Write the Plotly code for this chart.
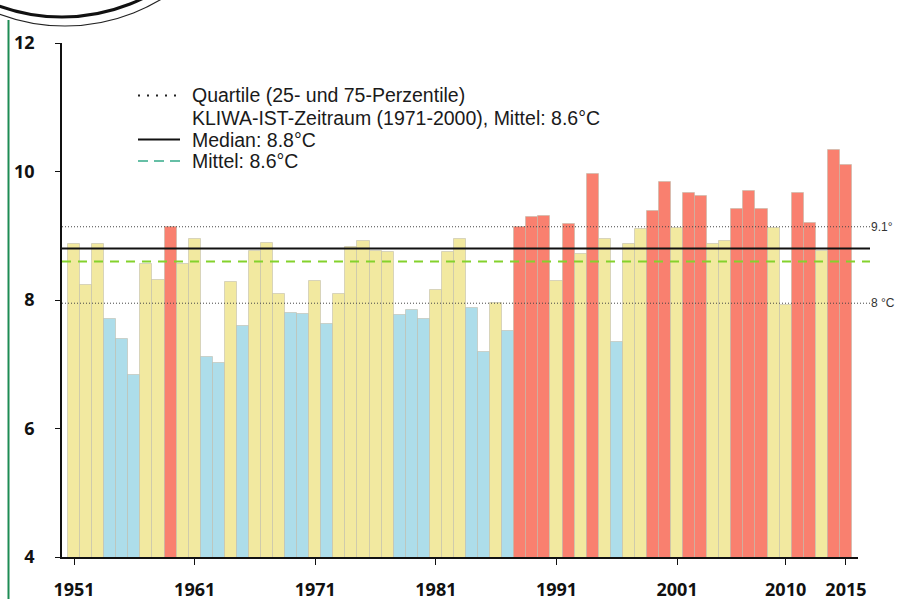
import plotly.graph_objects as go

# ---------------- data ----------------
years = list(range(1951, 2016))
temps = [8.87, 8.24, 8.87, 7.70, 7.39, 6.83, 8.56, 8.31, 9.14, 8.56,
         8.95, 7.12, 7.02, 8.28, 7.60, 8.76, 8.89, 8.09, 7.79, 7.78,
         8.30, 7.63, 8.10, 8.83, 8.92, 8.77, 8.75, 7.77, 7.84, 7.70,
         8.16, 8.75, 8.95, 7.87, 7.19, 7.96, 7.51, 9.13, 9.29, 9.30,
         8.30, 9.19, 8.72, 9.96, 8.95, 7.35, 8.87, 9.10, 9.39, 9.84,
         9.12, 9.66, 9.62, 8.87, 8.92, 9.41, 9.70, 9.41, 9.12, 7.92,
         9.66, 9.20, 8.77, 10.33, 10.10]
# class of each year: Y = between quartiles, B = below 25th, R = above 75th
classes = ["Y", "Y", "Y", "B", "B", "B", "Y", "Y", "R", "Y",
           "Y", "B", "B", "Y", "B", "Y", "Y", "Y", "B", "B",
           "Y", "B", "Y", "Y", "Y", "Y", "Y", "B", "B", "B",
           "Y", "Y", "Y", "B", "B", "Y", "B", "R", "R", "R",
           "Y", "R", "Y", "R", "Y", "B", "Y", "Y", "R", "R",
           "Y", "R", "R", "Y", "Y", "R", "R", "R", "Y", "Y",
           "R", "R", "Y", "R", "R"]
class_colors = {"Y": "#F2E9A0", "B": "#ADDDEA", "R": "#F9806F"}

q75 = 9.14
q25 = 7.95
median = 8.8
mean = 8.6
quart_labels = ["9.1°", "8 °C"]

x_ticks = [1951, 1961, 1971, 1981, 1991, 2001, 2010, 2015]
y_ticks = [4, 6, 8, 10, 12]

legend_lines = [
    "Quartile (25- und 75-Perzentile)",
    "KLIWA-IST-Zeitraum (1971-2000), Mittel: 8.6°C",
    "Median: 8.8°C",
    "Mittel: 8.6°C",
]

# ---------------- geometry (pixels in the 898x599 window) ----------------
W, H = 898, 599
WL, WR, WT, WB = 62, 858, 43, 557          # plot area
ML, MT = WL, WT
PW, PH = WR - WL, WB - WT
MR, MB = W - ML - PW, H - MT - PH


def px_x(p):
    return (p - WL) / PW


def px_y(p):
    return (WB - p) / PH


fig = go.Figure()

fig.add_trace(go.Bar(
    x=years, y=temps,
    marker=dict(color=[class_colors[c] for c in classes],
                line=dict(color="rgba(190,186,170,0.55)", width=1)),
    showlegend=False, hoverinfo="x+y",
))

# reference lines (extend slightly beyond the x axis end)
x_end = px_x(870)
for q in (q75, q25):
    fig.add_shape(type="line", xref="paper", yref="y", x0=0, x1=x_end, y0=q, y1=q,
                  line=dict(color="#444444", width=1, dash="1px,2px"), layer="above")
fig.add_shape(type="line", xref="paper", yref="y", x0=0, x1=x_end, y0=median, y1=median,
              line=dict(color="#111111", width=2), layer="above")
fig.add_shape(type="line", xref="paper", yref="y", x0=0, x1=x_end, y0=mean, y1=mean,
              line=dict(color="#84D22C", width=2, dash="9px,7px"), layer="above")

for q, lab in zip((q75, q25), quart_labels):
    fig.add_annotation(xref="paper", yref="y", x=px_x(869), y=q, text=lab, showarrow=False,
                       xanchor="left", yanchor="middle",
                       font=dict(family="Liberation Sans, Arial", size=12, color="#333333"))

# legend (drawn manually to match the tight line spacing)
leg_y = [95.5, 117.5, 139.5, 161]
leg_font = dict(family="Liberation Sans, Arial", size=19.5, color="#1a1a1a")
for txt, yy in zip(legend_lines, leg_y):
    fig.add_annotation(xref="paper", yref="paper", x=px_x(190), y=px_y(yy), text=txt,
                       showarrow=False, xanchor="left", yanchor="middle", font=leg_font)
leg_styles = [
    (leg_y[0], dict(color="#222222", width=2, dash="2px,7px")),
    (leg_y[2], dict(color="#111111", width=2)),
    (leg_y[3], dict(color="#66BFA6", width=2, dash="10px,6px")),
]
for yy, st in leg_styles:
    fig.add_shape(type="line", xref="paper", yref="paper",
                  x0=px_x(138), x1=px_x(180), y0=px_y(yy), y1=px_y(yy), line=st)

# decorations: green page line and cut-off logo circles
fig.add_shape(type="line", xref="paper", yref="paper",
              x0=px_x(8.5), x1=px_x(8.5), y0=px_y(20), y1=px_y(605),
              line=dict(color="#1E8C55", width=2))
fig.add_shape(type="circle", xref="paper", yref="paper",
              x0=px_x(-121), x1=px_x(251), y0=px_y(26), y1=px_y(-346),
              line=dict(color="#222222", width=1.2))
fig.add_shape(type="circle", xref="paper", yref="paper",
              x0=px_x(-123), x1=px_x(247), y0=px_y(17), y1=px_y(-353),
              line=dict(color="#111111", width=3))

fig.update_layout(
    width=W, height=H,
    margin=dict(l=ML, r=MR, t=MT, b=MB, autoexpand=False),
    paper_bgcolor="white", plot_bgcolor="white",
    bargap=0,
    showlegend=False,
    xaxis=dict(range=[1950.0, 2016.0], tickvals=x_ticks, ticktext=[str(t) for t in x_ticks],
               automargin=False,
               showgrid=False, zeroline=False, showline=True, linecolor="#111111", linewidth=1.5,
               ticks="outside", ticklen=6, tickcolor="#111111", ticklabelstandoff=10,
               tickfont=dict(family="Open Sans", size=18, color="#111111", weight="bold")),
    yaxis=dict(range=[4, 12], tickvals=y_ticks, ticktext=[str(t) for t in y_ticks],
               automargin=False,
               showgrid=False, zeroline=False, showline=True, linecolor="#111111", linewidth=1.5,
               ticks="outside", ticklen=5, tickcolor="#111111", ticklabelstandoff=17,
               tickfont=dict(family="Open Sans", size=18, color="#111111", weight="bold")),
)

fig.write_html("out.html", config={"displayModeBar": False},
               post_script="document.body.style.margin='0';document.body.style.overflow='hidden';")
